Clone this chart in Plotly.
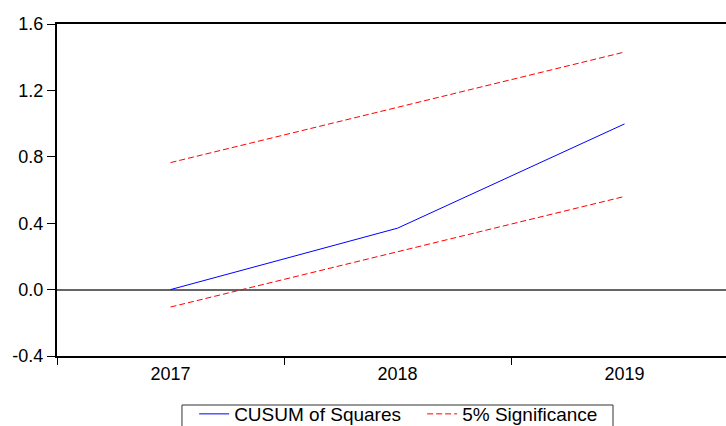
import plotly.graph_objects as go

years = ["2017", "2018", "2019"]
cusum_sq = [0.0, 0.370, 0.998]
upper_5 = [0.765, 1.098, 1.431]
lower_5 = [-0.105, 0.228, 0.561]
y_ticks = [-0.4, 0.0, 0.4, 0.8, 1.2, 1.6]
y_tick_labels = ["-0.4", "0.0", "0.4", "0.8", "1.2", "1.6"]

FONT = "Liberation Sans, Arial, sans-serif"

fig = go.Figure()
fig.add_trace(go.Scatter(x=years, y=cusum_sq, mode="lines", name="CUSUM of Squares",
                         line=dict(color="#0000ff", width=1)))
fig.add_trace(go.Scatter(x=years, y=upper_5, mode="lines", name="5% Significance",
                         legendgroup="sig", line=dict(color="#ff0000", width=1, dash="6px,3px")))
fig.add_trace(go.Scatter(x=years, y=lower_5, mode="lines", name="5% Significance",
                         legendgroup="sig", showlegend=False,
                         line=dict(color="#ff0000", width=1, dash="6px,3px")))

fig.update_layout(
    width=726, height=426,
    margin=dict(l=57, r=0, t=24, b=70, autoexpand=False),
    paper_bgcolor="white", plot_bgcolor="white",
    font=dict(family=FONT, size=18, color="black"),
    showlegend=True,
    legend=dict(orientation="h", x=0.205, y=-0.1175, xanchor="left", yanchor="top",
                borderwidth=0, font=dict(size=19), entrywidth=183,
                bgcolor="rgba(0,0,0,0)"),
    shapes=[dict(type="rect", xref="paper", yref="paper",
                 x0=0.1868, x1=0.8311, y0=-0.1476, y1=-0.35,
                 line=dict(color="#333", width=1), fillcolor="rgba(0,0,0,0)",
                 layer="below")],
)
fig.update_yaxes(range=[-0.4, 1.6], tickvals=y_ticks, ticktext=y_tick_labels,
                 ticks="outside", ticklen=8, tickcolor="black", tickwidth=1,
                 showline=True, linecolor="black", linewidth=2, showgrid=False,
                 automargin=False,
                 zeroline=True, zerolinecolor="#666", zerolinewidth=1.5)
fig.update_xaxes(type="category", range=[-0.5, 2.447], tickson="boundaries",
                 ticks="outside", ticklen=7, tickcolor="black", tickwidth=1,
                 showline=True, linecolor="black", linewidth=2, mirror=True,
                 automargin=False,
                 showgrid=False, zeroline=False)

fig.write_html("out.html", config={"displayModeBar": False},
               post_script="document.body.style.margin='0';document.body.style.overflow='hidden';")
